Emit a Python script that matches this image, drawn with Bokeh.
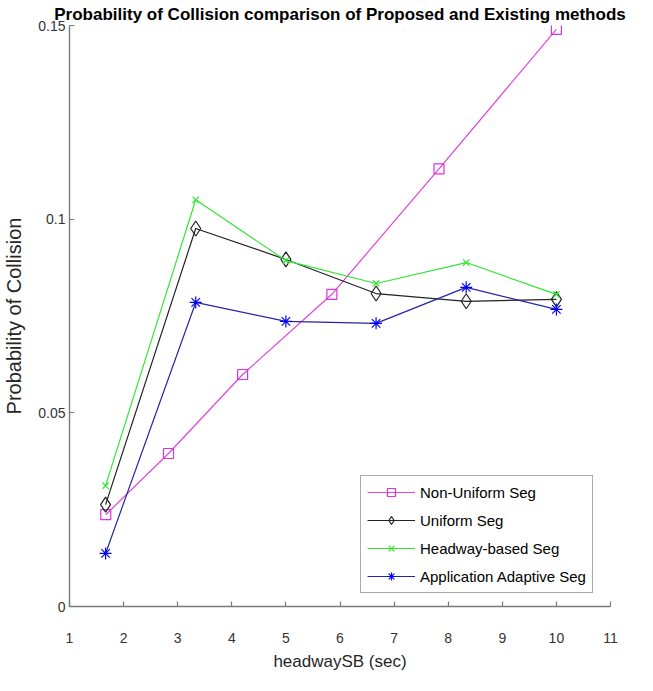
from bokeh.plotting import figure
from bokeh.models import FixedTicker
from bokeh.embed import file_html
from bokeh.resources import INLINE

# ---- data ----
x_ticks = [1, 2, 3, 4, 5, 6, 7, 8, 9, 10, 11]
y_ticks = [0, 0.05, 0.1, 0.15]
y_tick_labels = ["0", "0.05", "0.1", "0.15"]

x_nonuniform = [1.67, 2.83, 4.2, 5.85, 7.83, 10.0]
y_nonuniform = [0.0237, 0.0395, 0.0599, 0.0806, 0.1130, 0.149]

x_common = [1.667, 3.333, 5.0, 6.667, 8.333, 10.0]
y_uniform = [0.0263, 0.0976, 0.0896, 0.0808, 0.0788, 0.0793]
y_headway = [0.0312, 0.1050, 0.0893, 0.0834, 0.0888, 0.0806]
y_adaptive = [0.0137, 0.0785, 0.0736, 0.0731, 0.0824, 0.0767]

labels = ["Non-Uniform Seg", "Uniform Seg", "Headway-based Seg", "Application Adaptive Seg"]

FONT = "Liberation Sans"

p = figure(frame_width=541, frame_height=581, x_range=(1, 11), y_range=(0, 0.15),
           output_backend="svg", toolbar_location=None,
           min_border_left=67, min_border_right=29, min_border_top=25, min_border_bottom=68)

p.title.text = "Probability of Collision comparison of Proposed and Existing methods"
p.title.text_font = FONT
p.title.text_font_style = "bold"
p.title.text_font_size = "17px"
p.title.align = "center"
p.title.offset = -5
p.title.standoff = 4
p.title.text_color = "#000000"

p.xgrid.visible = False
p.ygrid.visible = False
p.outline_line_color = None
p.background_fill_color = "white"

for ax in (p.xaxis[0], p.yaxis[0]):
    ax.axis_line_color = "#7a7a7a"
    ax.axis_line_width = 1.4
    ax.major_tick_line_color = "#7a7a7a"
    ax.major_tick_line_width = 1.2
    ax.major_tick_in = 5
    ax.major_tick_out = 0
    ax.minor_tick_in = 0
    ax.minor_tick_out = 0
    ax.major_label_text_font = FONT
    ax.major_label_text_font_size = "14px"
    ax.major_label_text_color = "#333333"
    ax.axis_label_text_font_style = "normal"
    ax.axis_label_text_color = "#262626"

p.xaxis.ticker = FixedTicker(ticks=x_ticks)
p.yaxis.ticker = FixedTicker(ticks=y_ticks)
p.yaxis.major_label_overrides = dict(zip(y_ticks, y_tick_labels))
p.xaxis.major_label_standoff = 26
p.yaxis.major_label_standoff = 4

p.xaxis.axis_label = "headwaySB (sec)"
p.xaxis.axis_label_text_font = FONT
p.xaxis.axis_label_text_font_size = "17px"
p.xaxis.axis_label_standoff = 6

p.yaxis.axis_label = "Probability of Collision"
p.yaxis.axis_label_text_font = FONT
p.yaxis.axis_label_text_font_size = "20px"
p.yaxis.axis_label_standoff = 10

# Non-Uniform Seg
p.line(x_nonuniform, y_nonuniform, line_color="#dd44dd", line_width=1.2, legend_label=labels[0])
p.scatter(x_nonuniform, y_nonuniform, marker="square", size=10, line_color="#dd33dd",
          fill_color=None, line_width=1.2, legend_label=labels[0])
# Uniform Seg
p.line(x_common, y_uniform, line_color="#222222", line_width=1.2, legend_label=labels[1])
p.scatter(x_common, y_uniform, marker="diamond", size=15, line_color="#222222",
          fill_color=None, line_width=1.2, legend_label=labels[1])
# Headway-based Seg
p.line(x_common, y_headway, line_color="#33e633", line_width=1.2, legend_label=labels[2])
p.scatter(x_common, y_headway, marker="x", size=9, line_color="#33e633",
          line_width=1.2, legend_label=labels[2])
# Application Adaptive Seg
p.line(x_common, y_adaptive, line_color="#2424a8", line_width=1.2, legend_label=labels[3])
p.scatter(x_common, y_adaptive, marker="asterisk", size=12, line_color="#0000ff",
          line_width=1.2, legend_label=labels[3])

lg = p.legend[0]
lg.location = (291, 13)
lg.label_text_font = FONT
lg.label_text_font_size = "15px"
lg.label_text_color = "#000000"
lg.glyph_width = 48
lg.glyph_height = 20
lg.label_height = 20
lg.spacing = 8
lg.padding = 6
lg.margin = 0
lg.label_standoff = 5
lg.border_line_color = "#555555"
lg.border_line_width = 1.5
lg.background_fill_color = "white"
lg.background_fill_alpha = 1.0

open("out.html", "w").write(file_html(p, INLINE))
